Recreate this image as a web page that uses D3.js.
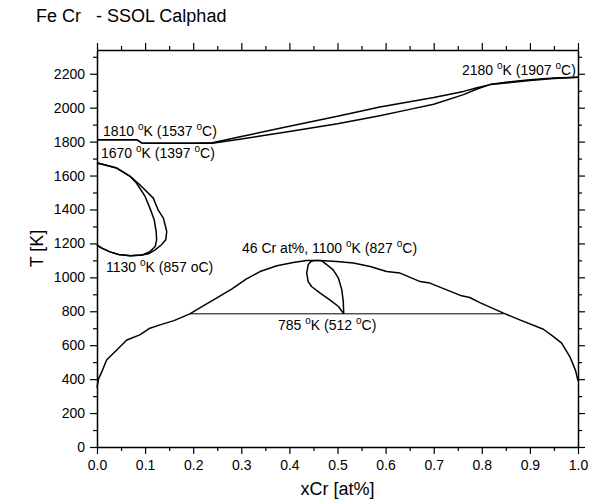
<!DOCTYPE html>
<html>
<head>
<meta charset="utf-8">
<script src="https://cdn.jsdelivr.net/npm/d3@7"></script>
<style>
  html, body { margin: 0; padding: 0; background: #fff; }
  svg { display: block; }
  text { font-family: "Liberation Sans", Arial, sans-serif; fill: #000; }
</style>
</head>
<body>
<svg id="chart" width="589" height="503"></svg>
<script>
// Fe–Cr phase diagram (SSOL Calphad), composition xCr vs temperature T [K]

const xTicks = [0, 0.1, 0.2, 0.3, 0.4, 0.5, 0.6, 0.7, 0.8, 0.9, 1.0];
const yTicks = [0, 200, 400, 600, 800, 1000, 1200, 1400, 1600, 1800, 2000, 2200];

// liquidus
const liquidusX = [0, 0.05, 0.083, 0.093, 0.15, 0.2, 0.24, 0.3, 0.4, 0.5, 0.588, 0.65, 0.7, 0.762, 0.79, 0.817, 0.85, 0.9, 0.95, 1.0];
const liquidusT = [1811, 1811, 1811, 1792, 1791, 1791, 1793, 1830, 1890, 1950, 2004, 2035, 2060, 2096, 2118, 2136, 2150, 2165, 2175, 2180];
// solidus
const solidusX = [0, 0.05, 0.083, 0.093, 0.15, 0.2, 0.24, 0.3, 0.4, 0.5, 0.588, 0.65, 0.7, 0.762, 0.79, 0.817, 0.85, 0.9, 0.95, 1.0];
const solidusT = [1811, 1811, 1811, 1792, 1791, 1791, 1791, 1815, 1860, 1905, 1953, 1990, 2020, 2077, 2110, 2136, 2145, 2160, 2172, 2180];

// gamma loop: alpha / (alpha+gamma) boundary
const gammaOuterX = [0, 0.003, 0.041, 0.069, 0.089, 0.117, 0.127, 0.138, 0.145, 0.143, 0.134, 0.121, 0.107, 0.09, 0.069, 0.045, 0.027, 0.01, 0];
const gammaOuterT = [1670, 1672, 1644, 1595, 1546, 1467, 1398, 1349, 1270, 1221, 1192, 1162, 1139, 1130, 1127, 1135, 1150, 1172, 1190];
// gamma loop: gamma / (alpha+gamma) boundary
const gammaInnerX = [0, 0.003, 0.041, 0.069, 0.082, 0.1, 0.11, 0.119, 0.123, 0.124, 0.121, 0.11, 0.096, 0.069, 0.045, 0.027, 0.01, 0];
const gammaInnerT = [1670, 1672, 1644, 1595, 1556, 1477, 1408, 1339, 1270, 1221, 1182, 1152, 1133, 1127, 1135, 1150, 1172, 1190];

// alpha / sigma dome and low-temperature miscibility gap
const domeX = [0, 0.003, 0.01, 0.02, 0.041, 0.062, 0.089, 0.11, 0.131, 0.16, 0.193, 0.22, 0.25, 0.28, 0.31, 0.339, 0.374, 0.408, 0.436, 0.464, 0.498, 0.533, 0.568, 0.602, 0.63, 0.672, 0.692, 0.727, 0.758, 0.775, 0.796, 0.845, 0.879, 0.928, 0.949, 0.966, 0.983, 0.995, 1.0];
const domeT = [350, 400, 444, 513, 572, 631, 661, 700, 720, 745, 785, 830, 880, 930, 990, 1034, 1068, 1087, 1099, 1099, 1093, 1084, 1064, 1034, 1025, 975, 966, 926, 891, 881, 851, 789, 749, 694, 651, 612, 533, 450, 390];

// sigma phase field
const sigmaX = [0.513, 0.502, 0.484, 0.464, 0.446, 0.439, 0.436, 0.439, 0.445, 0.455, 0.467, 0.478, 0.491, 0.502, 0.509, 0.512, 0.513];
const sigmaT = [785, 828, 867, 907, 946, 975, 1025, 1074, 1095, 1100, 1098, 1074, 1044, 995, 926, 857, 785];

// eutectoid isotherm
const isoX = [0.193, 0.845];
const isoT = [785, 785];

const margin = { left: 97, right: 11, top: 50, bottom: 56 };
const W = 589, H = 503;
const svg = d3.select("#chart");

const x = d3.scaleLinear().domain([0, 1]).range([margin.left, W - margin.right]);
const y = d3.scaleLinear().domain([0, 2340]).range([H - margin.bottom, margin.top]);

const pts = (xs, ts) => xs.map((v, i) => [v, ts[i]]);
const line = d3.line().x(d => x(d[0])).y(d => y(d[1]));

const curves = [
  { d: pts(liquidusX, liquidusT), w: 1.5 },
  { d: pts(solidusX, solidusT), w: 1.5 },
  { d: pts(gammaOuterX, gammaOuterT), w: 1.5 },
  { d: pts(gammaInnerX, gammaInnerT), w: 1.5 },
  { d: pts(domeX, domeT), w: 1.5 },
  { d: pts(sigmaX, sigmaT), w: 1.5 },
  { d: pts(isoX, isoT), w: 1 }
];

svg.append("g").selectAll("path").data(curves).join("path")
  .attr("d", c => line(c.d))
  .attr("fill", "none")
  .attr("stroke", "#000")
  .attr("stroke-width", c => c.w)
  .attr("stroke-linejoin", "round");

// axes (mirrored frame, outward ticks)
const xMinor = d3.range(0.05, 1, 0.1);
const yMinor = d3.range(100, 2340, 200);

function styleAxis(g) {
  g.selectAll("path.domain").attr("stroke", "#000").attr("stroke-width", 1.5);
  g.selectAll(".tick line").attr("stroke", "#000").attr("stroke-width", 1.2);
  g.selectAll(".tick text").style("font-size", "14px").style("font-family", "'Liberation Sans', Arial, sans-serif");
}
function minorTicks(g) {
  g.select(".domain").remove();
  g.selectAll("line").attr("stroke", "#000").attr("stroke-width", 1.2);
}

const axBottom = svg.append("g").attr("transform", `translate(0,${y(0)})`)
  .call(d3.axisBottom(x).tickValues(xTicks).tickFormat(d3.format(".1f")).tickSize(7).tickSizeOuter(0).tickPadding(6));
styleAxis(axBottom);
svg.append("g").attr("transform", `translate(0,${y(0)})`)
  .call(d3.axisBottom(x).tickValues(xMinor).tickFormat("").tickSize(4).tickSizeOuter(0))
  .call(minorTicks);

const axTop = svg.append("g").attr("transform", `translate(0,${margin.top})`)
  .call(d3.axisTop(x).tickValues(xTicks).tickFormat("").tickSize(7).tickSizeOuter(0));
styleAxis(axTop);
svg.append("g").attr("transform", `translate(0,${margin.top})`)
  .call(d3.axisTop(x).tickValues(xMinor).tickFormat("").tickSize(4).tickSizeOuter(0))
  .call(minorTicks);

const axLeft = svg.append("g").attr("transform", `translate(${margin.left},0)`)
  .call(d3.axisLeft(y).tickValues(yTicks).tickFormat(d3.format("d")).tickSize(7).tickSizeOuter(0).tickPadding(5));
styleAxis(axLeft);
svg.append("g").attr("transform", `translate(${margin.left},0)`)
  .call(d3.axisLeft(y).tickValues(yMinor).tickFormat("").tickSize(4).tickSizeOuter(0))
  .call(minorTicks);

const axRight = svg.append("g").attr("transform", `translate(${W - margin.right},0)`)
  .call(d3.axisRight(y).tickValues(yTicks).tickFormat("").tickSize(7).tickSizeOuter(0));
styleAxis(axRight);
svg.append("g").attr("transform", `translate(${W - margin.right},0)`)
  .call(d3.axisRight(y).tickValues(yMinor).tickFormat("").tickSize(4).tickSizeOuter(0))
  .call(minorTicks);

// title and axis titles
svg.append("text").attr("x", 36).attr("y", 22).style("font-size", "18px")
  .attr("xml:space", "preserve").text("Fe Cr   - SSOL Calphad");
svg.append("text").attr("x", (x(0) + x(1)) / 2).attr("y", 495).attr("text-anchor", "middle")
  .style("font-size", "18px").text("xCr [at%]");
svg.append("text").attr("transform", `translate(43,${(y(0) + y(2340)) / 2}) rotate(-90)`)
  .attr("text-anchor", "middle").style("font-size", "18px").text("T [K]");

// annotations with raised degree "o"
function note(px, py, parts) {
  const t = svg.append("text").attr("x", px).attr("y", py).style("font-size", "14px")
    .attr("xml:space", "preserve");
  let raised = false;
  parts.forEach(p => {
    if (p === "o") {
      t.append("tspan").attr("dy", -6).style("font-size", "10px").text("o");
      raised = true;
    } else {
      t.append("tspan").attr("dy", raised ? 6 : 0).text(p);
      raised = false;
    }
  });
}
note(103, 136, ["1810 ", "o", "K (1537 ", "o", "C)"]);
note(101, 158, ["1670 ", "o", "K (1397 ", "o", "C)"]);
note(462, 75, ["2180 ", "o", "K (1907 ", "o", "C)"]);
note(106, 272, ["1130 ", "o", "K (857 oC)"]);
note(242, 253, ["46 Cr at%, 1100 ", "o", "K (827 ", "o", "C)"]);
note(278, 330, ["785 ", "o", "K (512 ", "o", "C)"]);
</script>
</body>
</html>
